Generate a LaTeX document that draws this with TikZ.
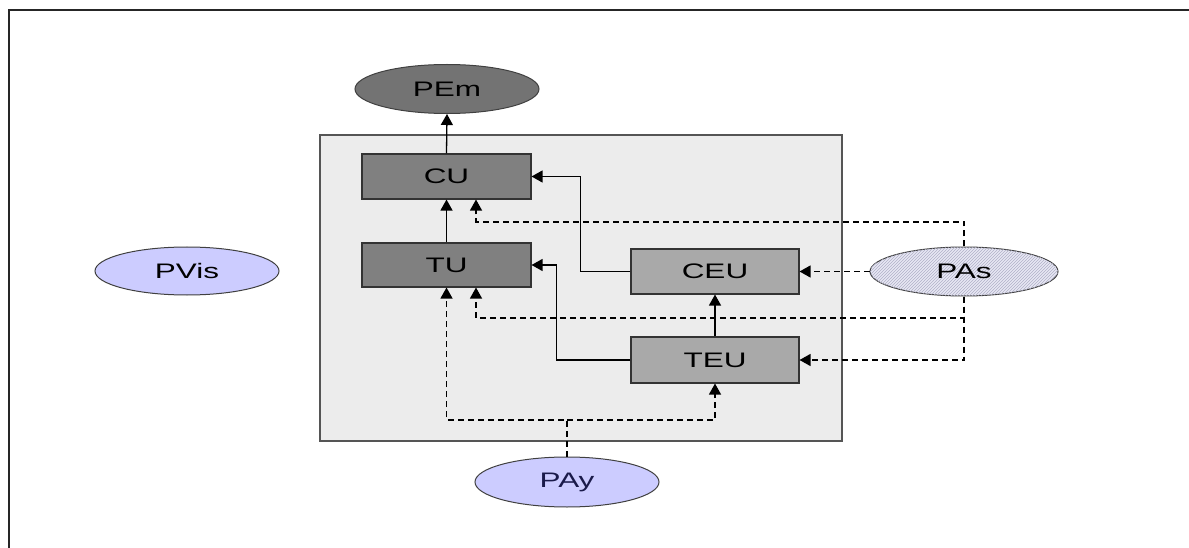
\documentclass[tikz,border=0pt]{standalone}
\usepackage{fontspec}
\setmainfont{Liberation Sans}
\newfontfamily\widesans[FakeStretch=1.5]{Liberation Sans}
\usetikzlibrary{arrows.meta,shapes.geometric,patterns}
\definecolor{panel}{HTML}{ECECEC}
\definecolor{panelborder}{HTML}{555555}
\definecolor{dark}{HTML}{808080}
\definecolor{mid}{HTML}{A9A9A9}
\definecolor{pem}{HTML}{737373}
\definecolor{lav}{HTML}{CCCCFF}
\definecolor{hatchbg}{HTML}{E8E8F4}
\definecolor{hatchln}{HTML}{B0B0C8}
\definecolor{navy}{HTML}{1A1A4A}
\tikzset{
  labelfont/.style={font=\widesans\fontsize{21}{25}\selectfont},
  unitbox/.style={draw=black!80, line width=1.1pt, minimum width=169pt, minimum height=45pt, inner sep=0pt, labelfont},
  darkbox/.style={unitbox, fill=dark},
  midbox/.style={unitbox, fill=mid},
  oval/.style={ellipse, draw=black!75, line width=1pt, minimum width=184pt, minimum height=49pt, inner sep=0pt, labelfont},
  arr/.style={line width=1.3pt, -{Triangle[length=11pt,width=12pt]}},
  darr/.style={arr, dash pattern=on 6pt off 4pt},
}
\begin{document}
\begin{tikzpicture}[x=1pt,y=-1pt]
\useasboundingbox (0,0) rectangle (1189,548);
\fill[white] (0,0) rectangle (1189,548);
\draw[line width=1.6pt, black!85] (9,548) -- (9,10) -- (1189,10);
\draw[fill=panel, draw=panelborder, line width=1.4pt] (320,135) rectangle (842,441);

\node[oval, fill=pem] (PEm) at (447,89) {PEm};
\node[darkbox] (CU) at (446.5,176.5) {CU};
\node[darkbox, minimum height=44pt] (TU) at (446.5,265) {TU};
\node[midbox, minimum width=168pt] (CEU) at (715,271.5) {CEU};
\node[midbox, minimum width=168pt, minimum height=46pt] (TEU) at (715,360) {TEU};
\node[oval, fill=lav, minimum height=48pt] (PVis) at (187,271) {PVis};
\node[oval, fill=hatchbg, minimum width=188pt, postaction={pattern=north east lines, pattern color=hatchln}] (PAs) at (964,271.5) {PAs};
\node[oval, fill=lav, text=navy, minimum height=50pt] (PAy) at (567,482) {PAy};

\coordinate (c1) at (476,222);
\coordinate (c2) at (476,318);
\coordinate (c3) at (567,420);

\draw[arr] (CU.north) -- (PEm.south);
\draw[arr] (TU.north) -- (CU.south);
\draw[arr] (TEU.north) -- (CEU.south);
\draw[arr] (CEU.west) -- ++(-50,0) |- (CU.east);
\draw[arr] (TEU.west) -- ++(-74,0) |- (TU.east);

\draw[darr] (PAs.west) -- (CEU.east);
\draw[darr] (PAs.north) |- (c1) -- (c1 |- CU.south);
\draw[darr] (PAs.south) |- (c2) -- (c2 |- TU.south);
\draw[darr] (PAs.south) |- (TEU.east);
\draw[darr] (PAy.north) -- (c3) -| (TU.south);
\draw[darr] (c3) -| (TEU.south);
\end{tikzpicture}
\end{document}
